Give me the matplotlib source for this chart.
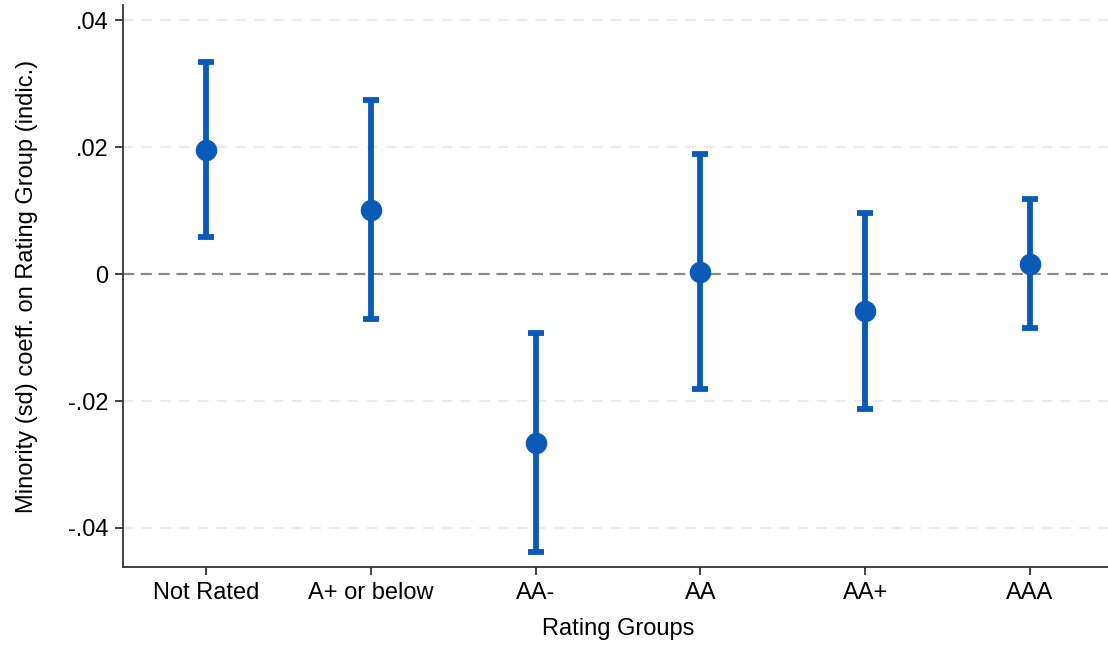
#!/usr/bin/env python3

from matplotlib import pyplot as pl
import numpy as np

groups = ['Not Rated', 'A+ or below', 'AA-', 'AA', 'AA+', 'AAA']
coef = [0.0195, 0.0101, -0.0266, 0.0003, -0.0058, 0.0016]
upper = [0.0334, 0.0274, -0.0093, 0.0189, 0.0096, 0.0118]
lower = [0.0058, -0.0071, -0.0438, -0.0181, -0.0213, -0.0085]
yticks = [-0.04, -0.02, 0, 0.02, 0.04]
yticklabels = ['-.04', '-.02', '0', '.02', '.04']

pl.rcParams['font.family'] = ['Liberation Sans', 'DejaVu Sans']

blue = '#0a5bb8'

fig = pl.figure(figsize=(11.08, 6.45), dpi=100)
ax = fig.add_axes([0.1114, 0.121, 0.8926, 0.871])

x = np.arange(len(groups))
coef = np.array(coef)
err = [coef - np.array(lower), np.array(upper) - coef]

for y in yticks:
    if y != 0:
        ax.axhline(y, color='#ebebeb', linestyle=(0, (5, 4)), linewidth=1.5, zorder=0)
ax.axhline(0, color='#8a8a8a', linestyle=(0, (5, 3)), linewidth=1.6, zorder=1)

ax.errorbar(x, coef, yerr=err, fmt='o', color=blue, markersize=14.5,
            elinewidth=4.2, capsize=5.5, capthick=4.2, zorder=3)

ax.set_xlim(-0.5, 5.5)
ax.set_ylim(-0.04614, 0.04236)
ax.set_xticks(x)
ax.set_xticklabels(groups)
ax.set_yticks(yticks)
ax.set_yticklabels(yticklabels)

for side in ['top', 'right']:
    ax.spines[side].set_visible(False)
for side in ['left', 'bottom']:
    ax.spines[side].set_color('#333333')
    ax.spines[side].set_linewidth(1.3)

ax.tick_params(axis='both', labelsize=17, length=6, width=1.3, color='#333333', pad=5)

ax.set_xlabel('Rating Groups', fontsize=17, labelpad=10)
ax.set_ylabel('Minority (sd) coeff. on Rating Group (indic.)', fontsize=17, labelpad=21)

fig.savefig('out.png', dpi=100)
